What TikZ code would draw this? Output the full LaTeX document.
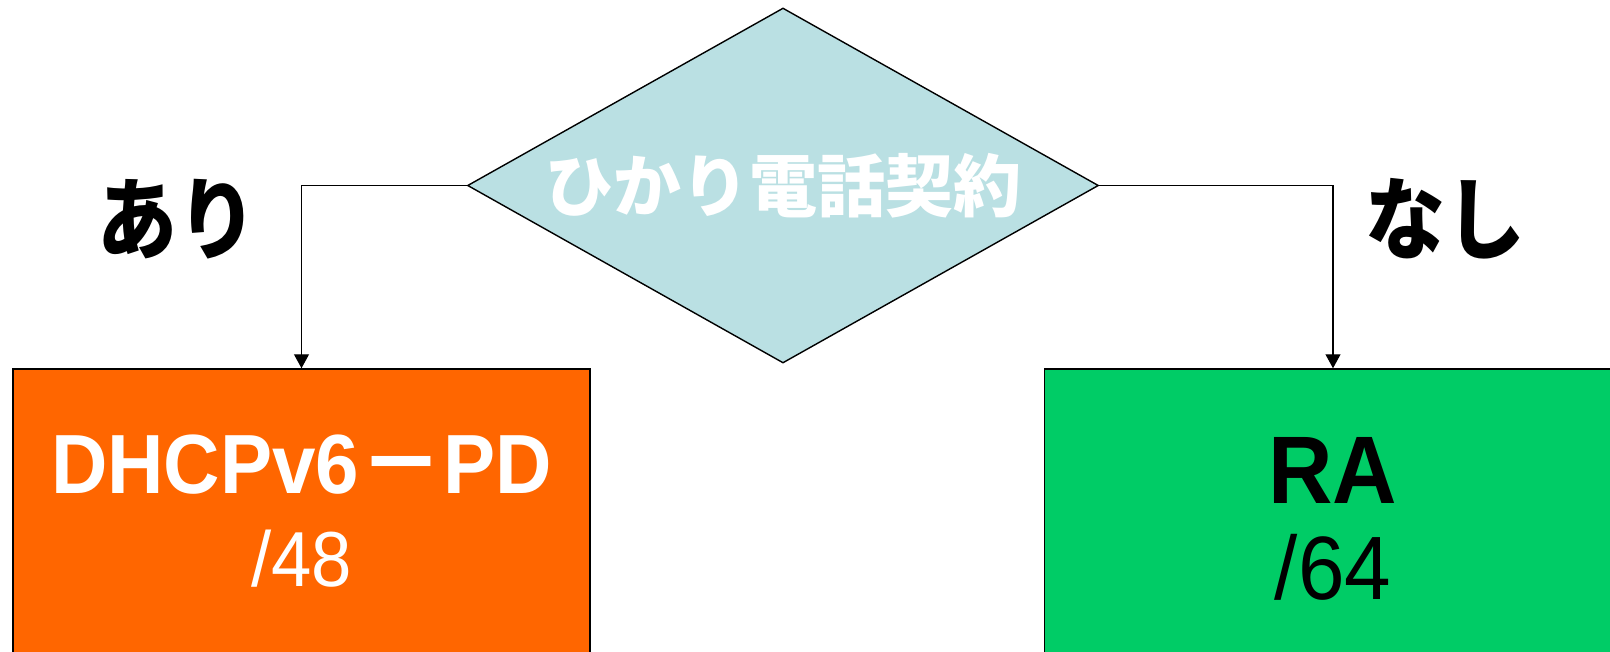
\documentclass[tikz,border=0pt]{standalone}
\usepackage{fontspec}
\setmainfont{Liberation Sans}[FakeStretch=0.93]
\newfontfamily\jpfont{Noto Sans CJK JP}
\usetikzlibrary{shapes.geometric}
\usetikzlibrary{arrows.meta}
\usetikzlibrary{positioning}
\definecolor{condblue}{HTML}{BAE0E3}
\definecolor{pdorange}{HTML}{FF6600}
\definecolor{ragreen}{HTML}{00CC66}
\tikzset{
  decision/.style={diamond, draw, line width=1.4pt, fill=condblue, inner sep=0pt,
    aspect=1.777, minimum width=631pt, minimum height=355pt, text=white,
    font=\jpfont\bfseries\fontsize{68}{80}\selectfont},
  result/.style={rectangle, draw, line width=1.5pt, minimum width=577pt, minimum height=284pt,
    align=center, inner sep=0pt},
  answer/.style={font=\jpfont\bfseries\fontsize{80}{90}\selectfont},
  arrow/.style={draw, -{Triangle[length=14pt, width=15pt]}, line width=1.2pt}
  }
\begin{document}
\begin{tikzpicture}[x=1pt, y=-1pt]
	\useasboundingbox (0,0) rectangle (1610,651);
	\clip (0,0) rectangle (1610,651);

	% Nodes
	\node[decision] (contract) at (783,185.5) {ひかり電話契約};
	\node[result, fill=pdorange, text=white] (dhcp) at (301.5,511)
	  {\fontsize{84}{94}\selectfont\bfseries DHCPv6{\jpfont －}PD\\[34pt]
	   \fontsize{78}{94}\selectfont /48};
	\node[result, fill=ragreen, right=453pt of dhcp] (ra)
	  {\fontsize{96}{100}\selectfont\bfseries\rule{0pt}{82pt}RA\\[30pt]
	   \fontsize{90}{100}\selectfont /64};
	\node[answer] (yes) at (177,219) {\scalebox{1}[1.12]{あり}};
	\node[answer] (no) at (1445,219) {\scalebox{1}[1.12]{なし}};

	% Arrow
	\draw [arrow] (contract.west) -| (dhcp.north);
	\draw [arrow] (contract.east) -| (ra.north);
\end{tikzpicture}
\end{document}
